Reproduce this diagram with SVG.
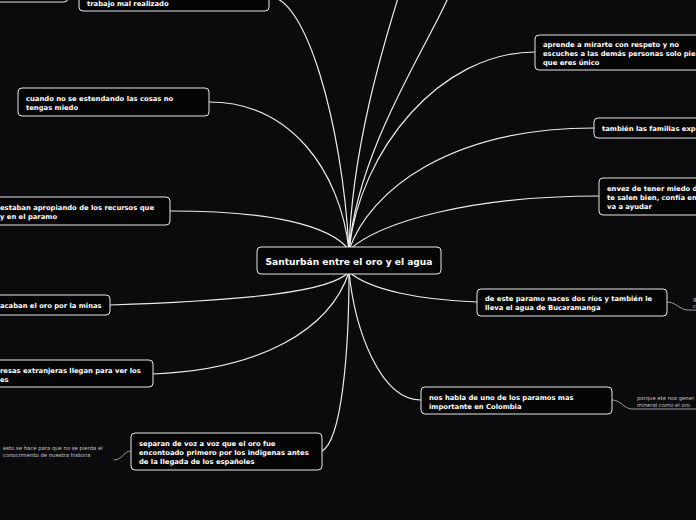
<svg xmlns="http://www.w3.org/2000/svg" width="696" height="520" viewBox="0 0 696 520">
<style>
.bg{fill:#0b0b0e}
.box{fill:#050506;stroke:#e8e8e8;stroke-width:1}
.t{font-family:"DejaVu Sans",Verdana,sans-serif;font-weight:bold;font-size:6.8px;fill:#ffffff}
.c{font-family:"DejaVu Sans",Verdana,sans-serif;font-weight:bold;font-size:9.1px;fill:#ffffff}
.s{font-family:"DejaVu Sans",Verdana,sans-serif;font-size:5.3px;fill:#c8c8c8}
.ln{fill:none;stroke:#ececec;stroke-width:1.2}
.ls{fill:none;stroke:#bdbdbd;stroke-width:0.8}
</style>
<rect class="bg" x="0" y="0" width="696" height="520"/>
<g id="connectors">
<path class="ln" d="M270,-3 C305,-3 342,120 349,250"/>
<path class="ln" d="M349,250 C352,150 382,50 398,-2"/>
<path class="ln" d="M349,250 C358,150 425,50 448,-2"/>
<path class="ln" d="M209,102 C290,102 340,170 349,250"/>
<path class="ln" d="M170,211 C270,211 330,225 349,250"/>
<path class="ln" d="M110,305 C250,300 330,292 349,272"/>
<path class="ln" d="M153,374 C260,370 330,330 349,272"/>
<path class="ln" d="M322,451 C342,440 349,350 349,272"/>
<path class="ln" d="M535,52 C440,52 360,150 349,250"/>
<path class="ln" d="M594,128 C450,128 370,190 349,250"/>
<path class="ln" d="M599,196 C470,196 380,222 349,250"/>
<path class="ln" d="M477,302 C420,300 370,290 349,272"/>
<path class="ln" d="M421,400 C380,400 355,330 349,272"/>
<path class="ls" d="M131,451 C124,451 122,460 114,460"/>
<path class="ls" d="M667,302 C676,302 680,310 688,310 L696,310"/>
<path class="ls" d="M612,400 C621,400 624,409 632,409 L696,409"/>
</g>
<g id="n-topleft"><rect class="box" x="-20" y="-30" width="88" height="32" rx="4"/></g>
<g id="n-trabajo"><rect class="box" x="79" y="-17" width="190" height="28" rx="4"/>
<text class="t" x="87" y="5.5">trabajo mal realizado</text></g>
<g id="n-cuando"><rect class="box" x="18" y="88" width="191" height="28" rx="4"/>
<text class="t" x="26" y="100.5">cuando no se estendando las cosas no</text>
<text class="t" x="26" y="109.5">tengas miedo</text></g>
<g id="n-estaban"><rect class="box" x="-12" y="197" width="182" height="28" rx="4"/>
<text class="t" x="0" y="209.5">estaban apropiando de los recursos que</text>
<text class="t" x="0" y="218.5">y en el paramo</text></g>
<g id="n-sacaban"><rect class="box" x="-12" y="295" width="122" height="20" rx="4"/>
<text class="t" x="0" y="307.5">acaban el oro por la minas</text></g>
<g id="n-empresas"><rect class="box" x="-12" y="360" width="165" height="27" rx="4"/>
<text class="t" x="0" y="372.5">resas extranjeras llegan para ver los</text>
<text class="t" x="0" y="381.5">es</text></g>
<g id="n-separan"><rect class="box" x="131" y="433" width="191" height="37" rx="4"/>
<text class="t" x="139" y="445.5">separan de voz a voz que el oro fue</text>
<text class="t" x="139" y="454.5">encontoado primero por los indigenas antes</text>
<text class="t" x="139" y="463.5">de la llegada de los españoles</text></g>
<g id="n-esto"><text class="s" x="3" y="450">esto se hace para que no se pierda el</text>
<text class="s" x="3" y="457">conocimiento de nuestra historia</text></g>
<g id="n-center"><rect class="box" x="257" y="247" width="184" height="27" rx="4"/>
<text class="c" x="349" y="264.5" text-anchor="middle">Santurbán entre el oro y el agua</text></g>
<g id="n-aprende"><rect class="box" x="535" y="35" width="180" height="35" rx="4"/>
<text class="t" x="543" y="46.5">aprende a mirarte con respeto y no</text>
<text class="t" x="543" y="55.5">escuches a las demás personas solo pie</text>
<text class="t" x="543" y="64.5">que eres único</text></g>
<g id="n-tambien"><rect class="box" x="594" y="118" width="120" height="20" rx="4"/>
<text class="t" x="602" y="130.5">también las familias exp</text></g>
<g id="n-envez"><rect class="box" x="599" y="178" width="120" height="37" rx="4"/>
<text class="t" x="607" y="190.5">envez de tener miedo d</text>
<text class="t" x="607" y="199.5">te salen bien, confía en</text>
<text class="t" x="607" y="208.5">va a ayudar</text></g>
<g id="n-deeste"><rect class="box" x="477" y="289" width="190" height="27" rx="4"/>
<text class="t" x="485" y="300.5">de este paramo naces dos ríos y también le</text>
<text class="t" x="485" y="309.5">lleva el agua de Bucaramanga</text></g>
<g id="n-g"><text class="s" x="693" y="301">g</text><text class="s" x="693" y="308">c</text></g>
<g id="n-noshabla"><rect class="box" x="421" y="387" width="191" height="27" rx="4"/>
<text class="t" x="429" y="399.5">nos habla de uno de los paramos mas</text>
<text class="t" x="429" y="408.5">importante en Colombia</text></g>
<g id="n-porque"><text class="s" x="637" y="400">porque ete nos gener</text>
<text class="s" x="637" y="407">mineral como el oro</text></g>
</svg>
